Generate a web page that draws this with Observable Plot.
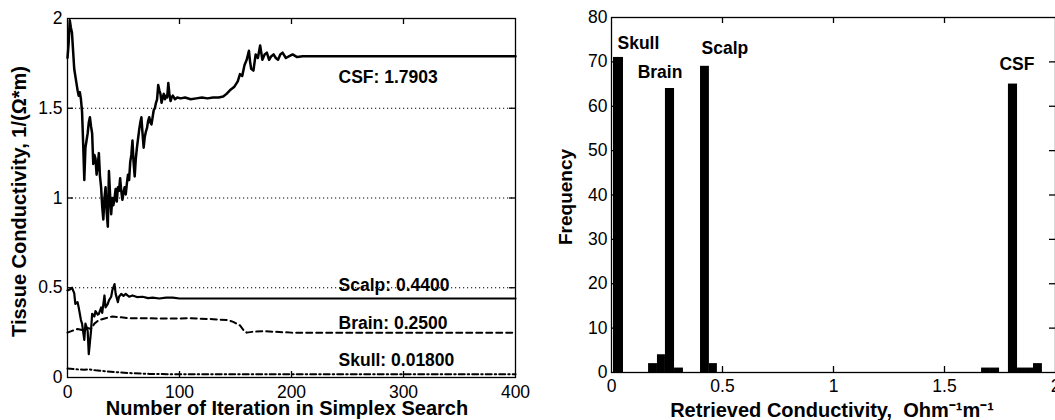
<!DOCTYPE html>
<html>
<head>
<meta charset="utf-8">
<script src="https://cdn.jsdelivr.net/npm/d3@7"></script>
<script src="https://cdn.jsdelivr.net/npm/@observablehq/plot@0.6"></script>
<style>
  html, body { margin: 0; padding: 0; background: #fff; }
  #wrap { display: flex; width: 1055px; height: 420px; overflow: hidden; }
  #wrap svg { flex: none; max-width: none; }
</style>
</head>
<body>
<div id="wrap"></div>
<script>
// ---------- Left panel data: conductivity vs. simplex iteration ----------
const csf = [
  [0,1.78],[1,1.86],[2,1.99],[3,1.95],[4,1.92],[5,1.82],[6,1.72],[7,1.68],[8,1.64],[9,1.60],
  [10,1.57],[11,1.59],[12,1.55],[13,1.48],[14,1.30],[15,1.10],[16,1.28],[17,1.32],[18,1.36],[19,1.42],
  [20,1.45],[21,1.40],[22,1.36],[23,1.19],[24,1.24],[25,1.22],[26,1.13],[27,1.18],[28,1.25],[29,1.12],
  [30,1.06],[31,0.95],[32,0.88],[33,1.00],[34,1.06],[35,0.92],[36,0.84],[37,1.15],[38,1.02],[39,0.91],
  [40,1.00],[41,0.96],[42,1.00],[43,1.05],[44,0.98],[45,1.06],[46,1.04],[47,1.11],[48,1.04],[49,0.99],
  [50,1.03],[51,1.06],[52,1.02],[53,1.08],[54,1.13],[55,1.10],[56,1.20],[57,1.24],[58,1.32],[59,1.20],
  [60,1.12],[61,1.22],[62,1.28],[63,1.33],[64,1.38],[65,1.42],[66,1.45],[67,1.36],[68,1.28],[69,1.34],
  [70,1.37],[71,1.39],[72,1.43],[73,1.45],[74,1.42],[75,1.41],[76,1.45],[77,1.49],[78,1.50],[79,1.53],
  [80,1.55],[81,1.63],[82,1.60],[83,1.58],[84,1.53],[85,1.56],[86,1.58],[87,1.55],[88,1.57],[89,1.56],
  [90,1.64],[91,1.58],[92,1.54],[93,1.56],[94,1.57],[96,1.55],[98,1.56],[101,1.555],[105,1.56],[110,1.55],
  [115,1.555],[120,1.56],[125,1.555],[130,1.56],[135,1.56],[139,1.565],[142,1.58],[145,1.60],[149,1.62],[152,1.65],
  [154,1.69],[156,1.68],[158,1.74],[160,1.77],[162,1.82],[163,1.76],[164,1.72],[166,1.71],[168,1.80],[170,1.78],
  [172,1.85],[174,1.77],[176,1.80],[178,1.81],[180,1.77],[182,1.79],[184,1.80],[186,1.78],[188,1.77],[190,1.80],
  [192,1.81],[195,1.78],[198,1.79],[201,1.80],[205,1.785],[210,1.79],[400,1.7903]
];
const scalp = [
  [0,0.485],[2,0.49],[4,0.50],[6,0.47],[7,0.41],[9,0.42],[10,0.39],[12,0.32],[13,0.30],[15,0.21],
  [16,0.30],[18,0.26],[19,0.13],[21,0.26],[22,0.355],[24,0.34],[25,0.37],[27,0.35],[28,0.355],[30,0.39],
  [31,0.36],[33,0.457],[34,0.39],[36,0.41],[37,0.43],[39,0.45],[40,0.485],[42,0.52],[43,0.466],[45,0.42],
  [46,0.45],[48,0.466],[50,0.455],[52,0.466],[55,0.45],[58,0.457],[62,0.448],[67,0.45],[72,0.442],[76,0.445],
  [82,0.44],[88,0.445],[94,0.445],[100,0.44],[400,0.44]
];
const brain = [
  [0,0.25],[4,0.26],[9,0.27],[13,0.265],[16,0.28],[21,0.27],[24,0.30],[28,0.32],[34,0.33],[40,0.34],
  [48,0.335],[55,0.33],[70,0.33],[85,0.328],[109,0.33],[130,0.325],[143,0.32],[148,0.31],[154,0.29],[157,0.265],
  [160,0.25],[166,0.255],[175,0.258],[184,0.255],[200,0.25],[400,0.25]
];
const skull = [
  [0,0.05],[5,0.047],[10,0.045],[15,0.043],[19,0.046],[25,0.04],[34,0.035],[43,0.03],[55,0.025],[73,0.02],
  [100,0.018],[400,0.018]
];
const tissueLabels = ["CSF: 1.7903", "Scalp: 0.4400", "Brain: 0.2500", "Skull: 0.01800"];
const tissueFinal = [1.7903, 0.44, 0.25, 0.018];
const iterTicks = [0, 100, 200, 300, 400];
const condTicks = [0, 0.5, 1, 1.5, 2];
const gridLevels = [0.5, 1, 1.5];
const leftXLabel = "Number of Iteration in Simplex Search";
const leftYLabel = "Tissue Conductivity, 1/(\u03A9*m)";

// ---------- Right panel data: histogram of retrieved conductivity ----------
const binLo  = [0.009, 0.167, 0.207, 0.243, 0.284, 0.401, 0.441, 1.667, 1.707, 1.788, 1.829, 1.865, 1.901];
const binHi  = [0.054, 0.207, 0.243, 0.284, 0.324, 0.441, 0.477, 1.707, 1.748, 1.829, 1.865, 1.901, 1.941];
const counts = [71, 2, 4, 64, 1, 69, 2, 1, 1, 65, 1, 1, 2];
const peakNames = ["Skull", "Brain", "Scalp", "CSF"];
const peakBin = [0, 3, 5, 9];
const freqTicks = [0, 10, 20, 30, 40, 50, 60, 70, 80];
const histXTicks = [0, 0.5, 1, 1.5, 2];
const rightXLabel = "Retrieved Conductivity,  Ohm\u207B\u00B9m\u207B\u00B9";
const rightYLabel = "Frequency";

// ---------- layout / styles ----------
const font = "'Liberation Sans', Arial, Helvetica, sans-serif";
const baseStyle = {fontFamily: font, fontSize: "17.5px", background: "white", color: "black", overflow: "visible"};
const L = {w: 530, h: 420, ml: 67, mr: 15, mt: 18, mb: 43};
const R = {w: 525, h: 420, ml: 81, mr: 0, mt: 17, mb: 48};
const tick = 6;
const rows = pts => pts.map(([i, v]) => ({i, v}));
const lw = L.w - L.ml - L.mr, lh = L.h - L.mt - L.mb;
const rw = R.w - R.ml - R.mr, rh = R.h - R.mt - R.mb;

const leftDy = [21, -13.5, -9, -14];
const labelIter = 242;

const left = Plot.plot({
  width: L.w, height: L.h,
  marginLeft: L.ml, marginRight: L.mr, marginTop: L.mt, marginBottom: L.mb,
  x: {domain: [0, 400]},
  y: {domain: [0, 2]},
  style: baseStyle,
  marks: [
    Plot.ruleY(gridLevels, {stroke: "black", strokeWidth: 1, strokeDasharray: "1.2,2.8"}),
    Plot.line(rows(skull), {x: "i", y: "v", stroke: "black", strokeWidth: 2, strokeDasharray: "6,3,1.5,3"}),
    Plot.line(rows(brain), {x: "i", y: "v", stroke: "black", strokeWidth: 2, strokeDasharray: "6,4"}),
    Plot.line(rows(scalp), {x: "i", y: "v", stroke: "black", strokeWidth: 2.2}),
    Plot.line(rows(csf), {x: "i", y: "v", stroke: "black", strokeWidth: 2.5}),
    Plot.frame({stroke: "black", strokeWidth: 1.3}),
    Plot.tickX(iterTicks.slice(1, -1), {x: d => d, insetTop: lh - tick, strokeWidth: 1.3}),
    Plot.tickX(iterTicks.slice(1, -1), {x: d => d, insetBottom: lh - tick, strokeWidth: 1.3}),
    Plot.tickY(gridLevels, {y: d => d, insetRight: lw - tick, strokeWidth: 1.3}),
    Plot.tickY(gridLevels, {y: d => d, insetLeft: lw - tick, strokeWidth: 1.3}),
    Plot.axisX({ticks: iterTicks, tickSize: 0, tickPadding: 8, label: null, tickFormat: d => String(d)}),
    Plot.axisY({ticks: condTicks, tickSize: 0, tickPadding: 5, label: null, tickFormat: d => String(d)}),
    Plot.text([leftXLabel], {text: d => d, frameAnchor: "bottom", lineAnchor: "middle", textAnchor: "middle",
      dx: -4.5, dy: 31, fontWeight: "bold", fontSize: 20}),
    Plot.text([leftYLabel], {text: d => d, frameAnchor: "left", lineAnchor: "middle", textAnchor: "middle",
      rotate: -90, dx: -47.5, dy: 3.5, fontWeight: "bold", fontSize: 20}),
    ...tissueLabels.map((t, k) => Plot.text([t], {
      text: d => d, x: () => labelIter, y: () => tissueFinal[k],
      textAnchor: "start", lineAnchor: "middle", dy: leftDy[k], fontWeight: "bold", fontSize: 17.5
    }))
  ]
});

const bins = binLo.map((lo, k) => ({lo, hi: binHi[k], n: counts[k]}));
const peakDx = [4, -10, 1, 4];
const peakDy = [-14, -16, -18, -20];
const peakAnchor = ["start", "middle", "start", "middle"];

const right = Plot.plot({
  width: R.w, height: R.h,
  marginLeft: R.ml, marginRight: R.mr, marginTop: R.mt, marginBottom: R.mb,
  x: {domain: [0, 2]},
  y: {domain: [0, 80]},
  style: baseStyle,
  marks: [
    Plot.rect(bins, {x1: "lo", x2: "hi", y1: () => 0, y2: "n", fill: "black"}),
    Plot.frame({stroke: "black", strokeWidth: 1.3}),
    Plot.tickX(histXTicks.slice(1, -1), {x: d => d, insetTop: rh - tick, strokeWidth: 1.3}),
    Plot.tickX(histXTicks.slice(1, -1), {x: d => d, insetBottom: rh - tick, strokeWidth: 1.3}),
    Plot.tickY(freqTicks.slice(1, -1), {y: d => d, insetRight: rw - tick, strokeWidth: 1.3}),
    Plot.tickY(freqTicks.slice(1, -1), {y: d => d, insetLeft: rw - tick, strokeWidth: 1.3}),
    Plot.axisX({ticks: histXTicks, tickSize: 0, tickPadding: 7, label: null, tickFormat: d => String(d)}),
    Plot.axisY({ticks: freqTicks, tickSize: 0, tickPadding: 4, label: null, tickFormat: d => String(d)}),
    Plot.text([rightXLabel], {text: d => d, frameAnchor: "bottom", lineAnchor: "middle", textAnchor: "middle",
      dx: -1.5, dy: 38, fontWeight: "bold", fontSize: 20}),
    Plot.text([rightYLabel], {text: d => d, frameAnchor: "left", lineAnchor: "middle", textAnchor: "middle",
      rotate: -90, dx: -46, dy: 2, fontWeight: "bold", fontSize: 19}),
    ...peakNames.map((name, k) => {
      const b = bins[peakBin[k]];
      return Plot.text([name], {
        text: d => d,
        x: () => peakAnchor[k] === "start" ? b.lo : (b.lo + b.hi) / 2,
        y: () => b.n,
        textAnchor: peakAnchor[k], lineAnchor: "middle",
        dx: peakDx[k], dy: peakDy[k], fontWeight: "bold", fontSize: 17.5
      });
    })
  ]
});

const wrap = document.getElementById("wrap");
wrap.appendChild(left);
wrap.appendChild(right);
</script>
</body>
</html>
